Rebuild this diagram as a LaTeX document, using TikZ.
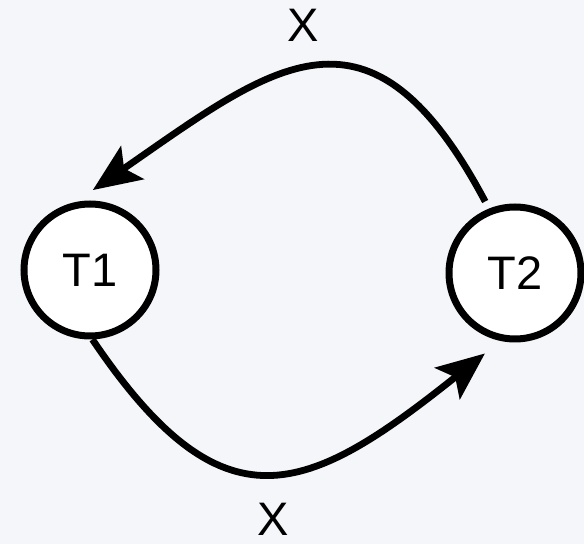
\documentclass[tikz,border=0pt]{standalone}
\usepackage{fontspec}
\setmainfont{Liberation Sans}
\usetikzlibrary{arrows.meta}

\begin{document}
\begin{tikzpicture}[x=1pt, y=1pt]
    \definecolor{bgcol}{RGB}{244,246,249}
    \tikzset{
        state/.style={circle, draw, fill=white, line width=7pt, minimum size=132pt, inner sep=0pt, font=\fontsize{47}{50}\selectfont},
        trans/.style={line width=6.8pt, -{Stealth[length=48pt, width=40pt, inset=10pt]}},
        lbl/.style={font=\fontsize{47}{50}\selectfont, inner sep=0pt}
    }

    % background
    \fill[bgcol] (0,0) rectangle (584,544);
    \useasboundingbox (0,0) rectangle (584,544);

    % states
    \node[state] (t1) at (90,274) {T1};
    \node[state] (t2) at (515,271) {T2};

    % transitions
    \draw[trans, shorten <=8pt, shorten >=21pt] (t2.112) .. controls +(118:254) and +(34.7:241) .. (t1.102);
    \draw[trans, shorten >=20pt] (t1.272) .. controls +(-56:234) and +(218.6:249) .. (t2.258);

    % labels
    \node[lbl] (xtop) at (303,519) {X};
    \node[lbl] (xbot) at (273,25) {X};
\end{tikzpicture}
\end{document}
